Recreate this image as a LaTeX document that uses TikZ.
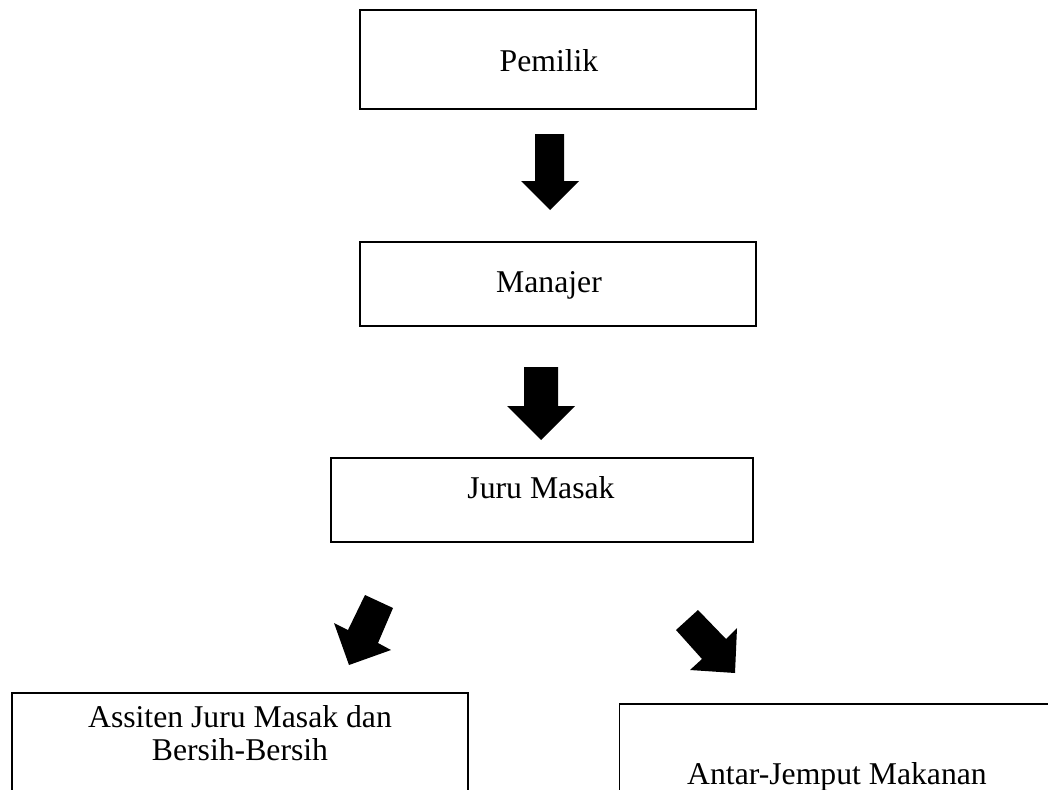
\documentclass[tikz,border=0pt]{standalone}
\usepackage{fontspec}
\setmainfont{Liberation Serif}
\begin{document}
\begin{tikzpicture}[x=1pt,y=-1pt,
  orgbox/.style={draw=black, line width=1.8pt, fill=none, inner sep=0pt, rectangle},
  lbl/.style={anchor=base, inner sep=0pt, font=\fontsize{31.7}{36}\selectfont, align=center},
  blockarrow/.style={fill=black, draw=none}]
\useasboundingbox (0,0) rectangle (1048,789);
\clip (0,0) rectangle (1048,789);
\fill[white] (0,0) rectangle (1048,789);
% boxes
\node[orgbox, minimum width=396pt, minimum height=99pt] (pemilik) at (558,59.5) {};
\node[orgbox, minimum width=396pt, minimum height=84pt] (manajer) at (558,284) {};
\node[orgbox, minimum width=422pt, minimum height=84pt] (juru) at (542,500) {};
\node[orgbox, minimum width=456pt, minimum height=200pt] (asisten) at (240,793) {};
\node[orgbox, minimum width=441pt, minimum height=200pt] (antar) at (840,804) {};
% labels
\node[lbl] (tpemilik) at (549,72) {Pemilik};
\node[lbl] (tmanajer) at (549,292) {Manajer};
\node[lbl] (tjuru) at (541,498) {Juru Masak};
\node[lbl, anchor=base] (tasisten) at (240,727) {Assiten Juru Masak dan};
\node[lbl] (tasisten2) at (240,760) {Bersih-Bersih};
\node[lbl] (tantar) at (837,784) {Antar-Jemput Makanan};
% block arrows
\fill[blockarrow] (535,134) -- (564,134) -- (564,181) -- (579,181) -- (550,210) -- (521,181) -- (535,181) -- cycle;
\fill[blockarrow] (524,367) -- (558,367) -- (558,406) -- (575,406) -- (541,440) -- (507,406) -- (524,406) -- cycle;
\fill[blockarrow] (365,595) -- (393,608) -- (378,643) -- (391,650) -- (349,665) -- (334,623) -- (348,630) -- cycle;
\fill[blockarrow] (676,630) -- (698,610) -- (726,639) -- (737,628) -- (735,673) -- (690,670) -- (702,659) -- cycle;
\end{tikzpicture}
\end{document}
